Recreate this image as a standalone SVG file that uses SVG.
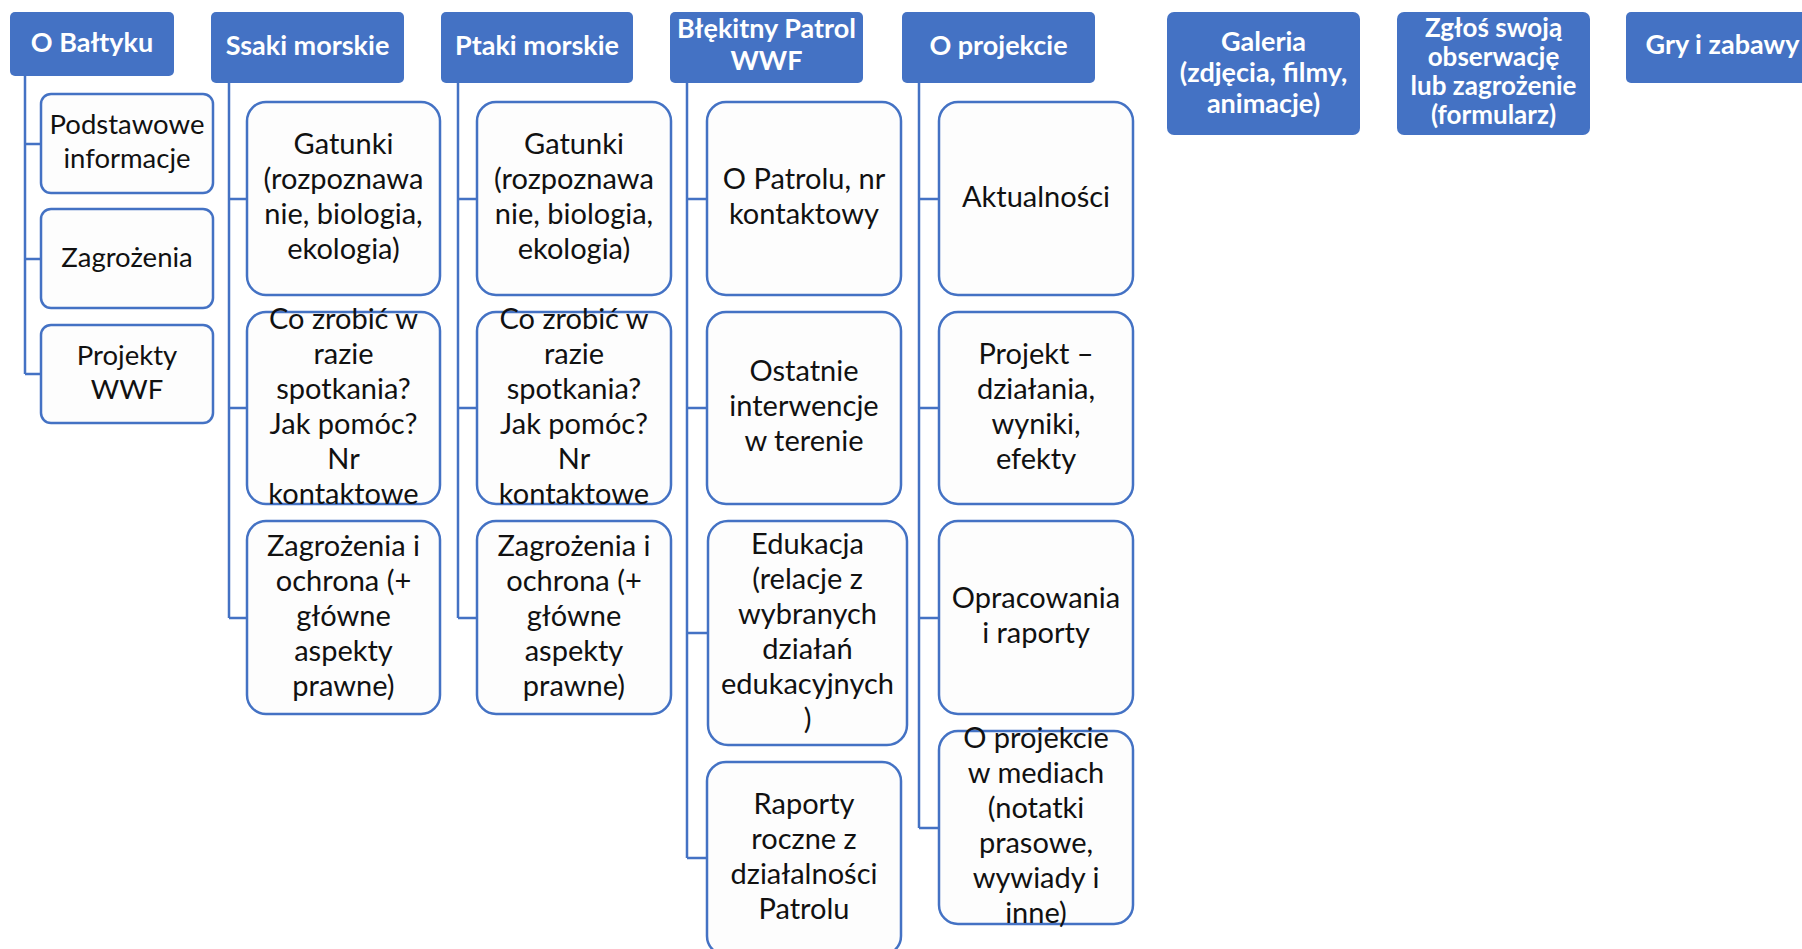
<svg xmlns="http://www.w3.org/2000/svg" width="1802" height="949" viewBox="0 0 1802 949">
<style>
.hd{fill:#4472C4;}
.hdt{font-family:Lato,"Liberation Sans",sans-serif;font-weight:bold;font-size:27px;fill:#FFFFFF;text-anchor:middle;}
.ch{fill:#FDFDFD;stroke:#4472C4;stroke-width:2.5;}
.cht{font-family:Lato,"Liberation Sans",sans-serif;font-size:29px;fill:#111111;text-anchor:middle;}
.sm{font-size:27.5px;}
.cn{fill:none;stroke:#4472C4;stroke-width:2.5;}
</style>
<rect width="1802" height="949" fill="#FFFFFF"/>
<g id="connectors">
<path class="cn" d="M25,76 V374 M25,144 H41 M25,259 H41 M25,374 H41"/>
<path class="cn" d="M229,83 V618 M229,199 H247 M229,408 H247 M229,618 H247"/>
<path class="cn" d="M458,83 V618 M458,199 H477 M458,408 H477 M458,618 H477"/>
<path class="cn" d="M687,83 V858 M687,199 H707 M687,408 H707 M687,633 H708 M687,858 H707"/>
<path class="cn" d="M919,83 V828 M919,199 H939 M919,408 H939 M919,618 H939 M919,828 H939"/>
</g>
<g id="h-baltyk"><rect class="hd" x="10" y="12" width="164" height="64" rx="5"/><text class="hdt" x="92" y="52">O Bałtyku</text></g>
<g id="h-ssaki"><rect class="hd" x="211" y="12" width="193" height="71" rx="5"/><text class="hdt" x="307.5" y="55">Ssaki morskie</text></g>
<g id="h-ptaki"><rect class="hd" x="441" y="12" width="192" height="71" rx="5"/><text class="hdt" x="537" y="55">Ptaki morskie</text></g>
<g id="h-patrol"><rect class="hd" x="670" y="12" width="193" height="71" rx="5"/><text class="hdt"><tspan x="766.5" y="38">Błękitny Patrol</tspan><tspan x="766.5" y="70">WWF</tspan></text></g>
<g id="h-projekt"><rect class="hd" x="902" y="12" width="193" height="71" rx="5"/><text class="hdt" x="998.5" y="55">O projekcie</text></g>
<g id="h-galeria"><rect class="hd" x="1167" y="12" width="193" height="123" rx="7"/><text class="hdt"><tspan x="1263.5" y="51">Galeria</tspan><tspan x="1263.5" y="82">(zdjęcia, filmy,</tspan><tspan x="1263.5" y="113">animacje)</tspan></text></g>
<g id="h-zglos"><rect class="hd" x="1397" y="12" width="193" height="123" rx="7"/><text class="hdt" style="font-size:26px"><tspan x="1493.5" y="37">Zgłoś swoją</tspan><tspan x="1493.5" y="66">obserwację</tspan><tspan x="1493.5" y="95">lub zagrożenie</tspan><tspan x="1493.5" y="124">(formularz)</tspan></text></g>
<g id="h-gry"><rect class="hd" x="1626" y="12" width="193" height="71" rx="5"/><text class="hdt" x="1722.5" y="54">Gry i zabawy</text></g>

<g id="b1"><rect class="ch" x="41" y="94" width="172" height="99" rx="10"/><text class="cht sm"><tspan x="127" y="134">Podstawowe</tspan><tspan x="127" y="168">informacje</tspan></text></g>
<g id="b2"><rect class="ch" x="41" y="209" width="172" height="99" rx="10"/><text class="cht sm" x="127" y="267">Zagrożenia</text></g>
<g id="b3"><rect class="ch" x="41" y="325" width="172" height="98" rx="10"/><text class="cht sm"><tspan x="127" y="365">Projekty</tspan><tspan x="127" y="399">WWF</tspan></text></g>

<g id="s1"><rect class="ch" x="247" y="102" width="193" height="193" rx="19"/><text class="cht"><tspan x="343.5" y="154">Gatunki</tspan><tspan x="343.5" y="189">(rozpoznawa</tspan><tspan x="343.5" y="224">nie, biologia,</tspan><tspan x="343.5" y="259">ekologia)</tspan></text></g>
<g id="s2"><rect class="ch" x="247" y="312" width="193" height="192" rx="19"/><text class="cht"><tspan x="343.5" y="328.5">Co zrobić w</tspan><tspan x="343.5" y="363.5">razie</tspan><tspan x="343.5" y="398.5">spotkania?</tspan><tspan x="343.5" y="433.5">Jak pomóc?</tspan><tspan x="343.5" y="468.5">Nr</tspan><tspan x="343.5" y="503.5">kontaktowe</tspan></text></g>
<g id="s3"><rect class="ch" x="247" y="521" width="193" height="193" rx="19"/><text class="cht"><tspan x="343.5" y="555.5">Zagrożenia i</tspan><tspan x="343.5" y="590.5">ochrona (+</tspan><tspan x="343.5" y="625.5">główne</tspan><tspan x="343.5" y="660.5">aspekty</tspan><tspan x="343.5" y="695.5">prawne)</tspan></text></g>

<g id="p1"><rect class="ch" x="477" y="102" width="194" height="193" rx="19"/><text class="cht"><tspan x="574" y="154">Gatunki</tspan><tspan x="574" y="189">(rozpoznawa</tspan><tspan x="574" y="224">nie, biologia,</tspan><tspan x="574" y="259">ekologia)</tspan></text></g>
<g id="p2"><rect class="ch" x="477" y="312" width="194" height="192" rx="19"/><text class="cht"><tspan x="574" y="328.5">Co zrobić w</tspan><tspan x="574" y="363.5">razie</tspan><tspan x="574" y="398.5">spotkania?</tspan><tspan x="574" y="433.5">Jak pomóc?</tspan><tspan x="574" y="468.5">Nr</tspan><tspan x="574" y="503.5">kontaktowe</tspan></text></g>
<g id="p3"><rect class="ch" x="477" y="521" width="194" height="193" rx="19"/><text class="cht"><tspan x="574" y="555.5">Zagrożenia i</tspan><tspan x="574" y="590.5">ochrona (+</tspan><tspan x="574" y="625.5">główne</tspan><tspan x="574" y="660.5">aspekty</tspan><tspan x="574" y="695.5">prawne)</tspan></text></g>

<g id="w1"><rect class="ch" x="707" y="102" width="194" height="193" rx="19"/><text class="cht"><tspan x="804" y="189">O Patrolu, nr</tspan><tspan x="804" y="224">kontaktowy</tspan></text></g>
<g id="w2"><rect class="ch" x="707" y="312" width="194" height="192" rx="19"/><text class="cht"><tspan x="804" y="381">Ostatnie</tspan><tspan x="804" y="416">interwencje</tspan><tspan x="804" y="451">w terenie</tspan></text></g>
<g id="w3"><rect class="ch" x="708" y="521" width="199" height="224" rx="20"/><text class="cht"><tspan x="807.5" y="553.5">Edukacja</tspan><tspan x="807.5" y="588.5">(relacje z</tspan><tspan x="807.5" y="623.5">wybranych</tspan><tspan x="807.5" y="658.5">działań</tspan><tspan x="807.5" y="693.5">edukacyjnych</tspan><tspan x="807.5" y="728.5">)</tspan></text></g>
<g id="w4"><rect class="ch" x="707" y="762" width="194" height="193" rx="19"/><text class="cht"><tspan x="804" y="814">Raporty</tspan><tspan x="804" y="849">roczne z</tspan><tspan x="804" y="884">działalności</tspan><tspan x="804" y="919">Patrolu</tspan></text></g>

<g id="o1"><rect class="ch" x="939" y="102" width="194" height="193" rx="19"/><text class="cht" x="1036" y="206.5">Aktualności</text></g>
<g id="o2"><rect class="ch" x="939" y="312" width="194" height="192" rx="19"/><text class="cht"><tspan x="1036" y="363.5">Projekt –</tspan><tspan x="1036" y="398.5">działania,</tspan><tspan x="1036" y="433.5">wyniki,</tspan><tspan x="1036" y="468.5">efekty</tspan></text></g>
<g id="o3"><rect class="ch" x="939" y="521" width="194" height="193" rx="19"/><text class="cht"><tspan x="1036" y="608">Opracowania</tspan><tspan x="1036" y="643">i raporty</tspan></text></g>
<g id="o4"><rect class="ch" x="939" y="731" width="194" height="193" rx="19"/><text class="cht"><tspan x="1036" y="748">O projekcie</tspan><tspan x="1036" y="783">w mediach</tspan><tspan x="1036" y="818">(notatki</tspan><tspan x="1036" y="853">prasowe,</tspan><tspan x="1036" y="888">wywiady i</tspan><tspan x="1036" y="923">inne)</tspan></text></g>
</svg>
